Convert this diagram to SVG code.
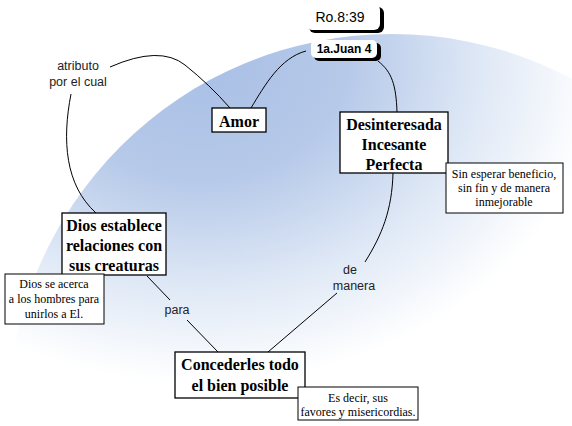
<svg xmlns="http://www.w3.org/2000/svg" width="572" height="426" viewBox="0 0 572 426">
<defs>
<radialGradient id="bg" gradientUnits="userSpaceOnUse" cx="0" cy="0" r="1" gradientTransform="translate(200,60) scale(420,340)">
<stop offset="0" stop-color="#a8bfe5"/>
<stop offset="0.35" stop-color="#b6c9e9"/>
<stop offset="0.68" stop-color="#e0e9f6"/>
<stop offset="0.95" stop-color="#ffffff"/>
</radialGradient>
<style>
.box{fill:#fff;stroke:#000;stroke-width:1.3}
.note{fill:#fff;stroke:#000;stroke-width:1}
.nt{font-family:"Liberation Serif",serif;font-weight:bold;font-size:16px;text-anchor:middle;fill:#000}
.sm{font-family:"Liberation Serif",serif;font-size:12px;text-anchor:middle;fill:#000}
.lb{font-family:"Liberation Sans",Arial,sans-serif;font-size:12.5px;text-anchor:middle;fill:#222}
.con{fill:none;stroke:#000;stroke-width:1}
.sh{fill:#000}
</style>
</defs>
<rect width="572" height="426" fill="#fff"/>
<circle cx="392" cy="418" r="384" fill="url(#bg)"/>
<g id="connectors">
<path class="con" d="M110,67 Q160,45 185,65 T230,108"/>
<path class="con" d="M251,108 C265,85 280,58 306,51"/>
<path class="con" d="M378,61 C392,72 396,85 397,112"/>
<path class="con" d="M71,94 C62,140 65,185 96,213"/>
<path class="con" d="M393,173 C392,210 382,235 365,262"/>
<path class="con" d="M337,293 L268,352"/>
<path class="con" d="M147,276 L170,300"/>
<path class="con" d="M187,320 L218,352"/>
</g>
<g id="label-atributo">
<text class="lb" x="78" y="70">atributo</text>
<text class="lb" x="78" y="86">por el cual</text>
</g>
<g id="label-para"><text class="lb" x="177" y="314">para</text></g>
<g id="label-de">
<text class="lb" x="350" y="274">de</text>
<text class="lb" x="354" y="290">manera</text>
</g>
<g id="ro839">
<rect class="sh" x="309" y="7" width="75" height="26" rx="6"/>
<rect x="306" y="4" width="74" height="26" rx="6" fill="#fff"/>
<text x="340" y="22" font-family="Liberation Sans,Arial,sans-serif" font-size="14" text-anchor="middle">Ro.8:39</text>
</g>
<g id="juan4">
<rect class="sh" x="314" y="43" width="67" height="18" rx="5"/>
<rect x="311" y="40" width="66" height="18" rx="5" fill="#fff"/>
<text x="344" y="53" font-family="Liberation Sans,Arial,sans-serif" font-size="12" font-weight="bold" text-anchor="middle">1a.Juan 4</text>
</g>
<g id="amor">
<rect class="box" x="212" y="108" width="54" height="24"/>
<text class="nt" x="239" y="127" font-size="17">Amor</text>
</g>
<g id="desinteresada">
<rect class="box" x="340" y="112" width="108" height="61"/>
<text class="nt" x="394" y="130">Desinteresada</text>
<text class="nt" x="394" y="150">Incesante</text>
<text class="nt" x="394" y="170">Perfecta</text>
</g>
<g id="note-sin">
<rect class="note" x="446" y="163" width="117" height="50"/>
<text class="sm" x="504" y="178">Sin esperar beneficio,</text>
<text class="sm" x="504" y="192">sin fin y de manera</text>
<text class="sm" x="504" y="206">inmejorable</text>
</g>
<g id="dios">
<rect class="box" x="62" y="213" width="104" height="62"/>
<text class="nt" x="114" y="231">Dios establece</text>
<text class="nt" x="114" y="251">relaciones con</text>
<text class="nt" x="114" y="271">sus creaturas</text>
</g>
<g id="note-dios">
<rect class="note" x="5" y="274" width="99" height="50"/>
<text class="sm" x="54" y="288">Dios se acerca</text>
<text class="sm" x="54" y="303">a los hombres para</text>
<text class="sm" x="54" y="318">unirlos a El.</text>
</g>
<g id="concederles">
<rect class="box" x="175" y="352" width="130" height="46"/>
<text class="nt" x="240" y="370">Concederles todo</text>
<text class="nt" x="240" y="391">el bien posible</text>
</g>
<g id="note-es">
<rect class="note" x="298" y="387" width="120" height="33"/>
<text class="sm" x="358" y="402" font-size="10.5">Es decir, sus</text>
<text class="sm" x="358" y="416" font-size="10.5">favores y misericordias.</text>
</g>
</svg>
